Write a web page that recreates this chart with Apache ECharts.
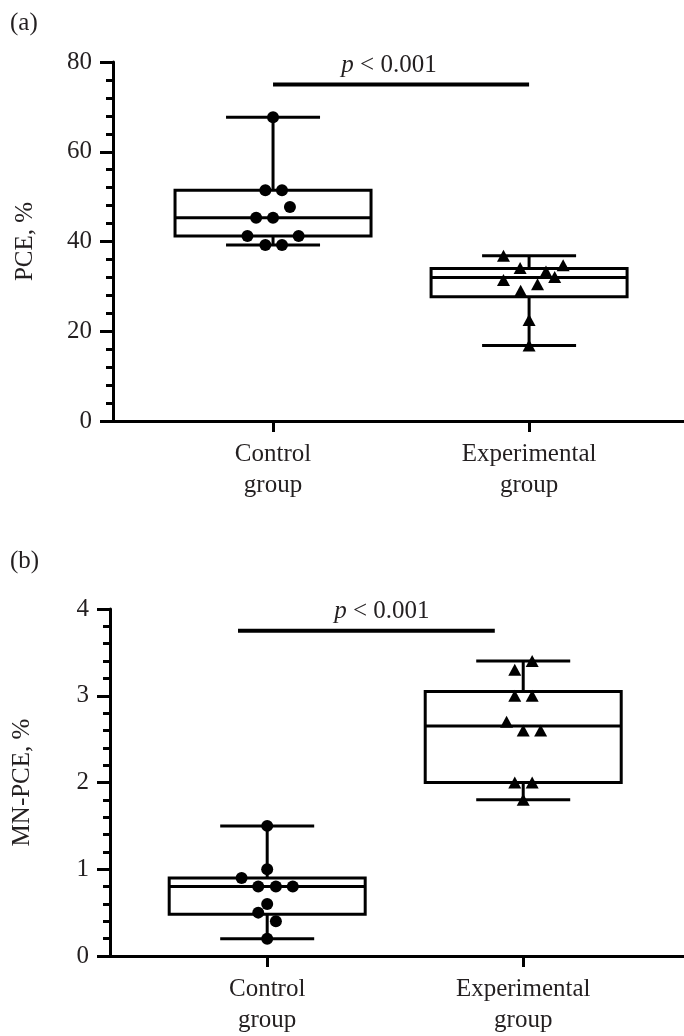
<!doctype html>
<html lang="en">
<head>
    <meta charset="utf-8" />
    <title>PCE / MN-PCE</title>
    <script src="https://cdn.jsdelivr.net/npm/echarts@6/dist/echarts.min.js"></script>
</head>
<style type="text/css">
    html, body { margin: 0; padding: 0; background: #fff; }
    #chart { width: 684px; height: 1036px; }
</style>
<body>
<div id="chart"></div>
<script>
    // group names (x axis)
    var groups = ['Control\ngroup', 'Experimental\ngroup'];

    // panel (a) PCE, %  -- box stats: [min, Q1, median, Q3, max]
    var boxA = [
        [39.2, 41.2, 45.3, 51.4, 67.7],
        [16.8, 27.7, 32.0, 34.0, 36.8]
    ];
    var ctrlA  = [67.7, 51.4, 51.4, 47.7, 45.3, 45.3, 41.2, 41.2, 39.2, 39.2];
    var ctrlAX = [0, -0.03, 0.035, 0.066, -0.066, 0, -0.1, 0.1, -0.03, 0.035];
    var expA   = [36.8, 34.1, 34.7, 33.3, 32.1, 31.4, 30.5, 29.0, 22.5, 16.8];
    var expAX  = [0.9, 0.965, 1.133, 1.066, 1.1, 0.9, 1.033, 0.967, 1, 1];

    // panel (b) MN-PCE, %
    var boxB = [
        [0.2, 0.48, 0.8, 0.9, 1.5],
        [1.8, 2.0, 2.65, 3.05, 3.4]
    ];
    var ctrlB  = [1.5, 1.0, 0.9, 0.8, 0.8, 0.8, 0.6, 0.5, 0.4, 0.2];
    var ctrlBX = [0, 0, -0.1, -0.035, 0.034, 0.1, 0, -0.035, 0.034, 0];
    var expB   = [3.4, 3.3, 3.0, 3.0, 2.7, 2.6, 2.6, 2.0, 2.0, 1.8];
    var expBX  = [1.035, 0.967, 0.967, 1.035, 0.935, 1, 1.068, 0.967, 1.035, 1];

    // significance bars: [y, x from, x to, label x]
    var sigA = [75, 0, 1, 0.453];
    var sigB = [3.75, -0.114, 0.889, 0.448];
    var sigText = ['p', ' < 0.001'];

    var font = 'Liberation Serif';
    var fs = 25;
    var ink = '#000';
    var textInk = '#231f20';

    function boxRender(params, api) {
        var x = api.value(0);
        var lo = api.coord([x, api.value(1)]);
        var q1 = api.coord([x, api.value(2)]);
        var med = api.coord([x, api.value(3)]);
        var q3 = api.coord([x, api.value(4)]);
        var hi = api.coord([x, api.value(5)]);
        var bw = 98, cw = 47;
        var st = { stroke: ink, lineWidth: 3, fill: 'none' };
        return {
            type: 'group',
            children: [
                { type: 'rect', shape: { x: q3[0] - bw, y: q3[1], width: 2 * bw, height: q1[1] - q3[1] }, style: st },
                { type: 'line', shape: { x1: med[0] - bw, y1: med[1], x2: med[0] + bw, y2: med[1] }, style: st },
                { type: 'line', shape: { x1: hi[0], y1: hi[1], x2: q3[0], y2: q3[1] }, style: st },
                { type: 'line', shape: { x1: lo[0], y1: lo[1], x2: q1[0], y2: q1[1] }, style: st },
                { type: 'line', shape: { x1: hi[0] - cw, y1: hi[1], x2: hi[0] + cw, y2: hi[1] }, style: st },
                { type: 'line', shape: { x1: lo[0] - cw, y1: lo[1], x2: lo[0] + cw, y2: lo[1] }, style: st }
            ]
        };
    }

    function xAxisOpt(idx, min, max) {
        return {
            type: 'value', gridIndex: idx, min: min, max: max,
            splitLine: { show: false },
            axisLine: { show: true, onZero: false, lineStyle: { color: ink, width: 3 } },
            axisTick: { show: true, customValues: [0, 1], length: 11, lineStyle: { color: ink, width: 3 } },
            axisLabel: {
                customValues: [0, 1], margin: 18,
                fontFamily: font, fontSize: fs, lineHeight: 31, color: textInk,
                formatter: function (v) { return groups[Math.round(v)]; }
            }
        };
    }

    function yAxisOpt(idx, name, max, interval) {
        return {
            type: 'value', gridIndex: idx, min: 0, max: max, interval: interval,
            name: name, nameLocation: 'middle', nameGap: 75,
            nameTextStyle: { fontFamily: font, fontSize: fs, color: textInk },
            splitLine: { show: false },
            axisLine: { show: true, onZero: false, lineStyle: { color: ink, width: 3 } },
            axisTick: { length: 13, lineStyle: { color: ink, width: 3 } },
            minorTick: { show: true, splitNumber: 5, length: 7, lineStyle: { color: ink, width: 3 } },
            axisLabel: { margin: 21, fontFamily: font, fontSize: fs, color: textInk }
        };
    }

    function pts(xs, ys) {
        return ys.map(function (v, i) { return [xs[i], v]; });
    }

    function panelSeries(idx, box, cY, cX, eY, eX, sig) {
        return [
            {
                type: 'custom', xAxisIndex: idx, yAxisIndex: idx, z: 2,
                renderItem: boxRender,
                encode: { x: 0, y: [1, 2, 3, 4, 5] },
                data: box.map(function (b, i) { return [i].concat(b); }),
                silent: true
            },
            {
                type: 'scatter', xAxisIndex: idx, yAxisIndex: idx, z: 3,
                symbol: 'circle', symbolSize: 12,
                itemStyle: { color: ink, opacity: 1 },
                data: pts(cX, cY)
            },
            {
                type: 'scatter', xAxisIndex: idx, yAxisIndex: idx, z: 3,
                symbol: 'triangle', symbolSize: [13, 12],
                itemStyle: { color: ink, opacity: 1 },
                data: pts(eX, eY)
            },
            {
                type: 'line', xAxisIndex: idx, yAxisIndex: idx, z: 2,
                symbol: 'none',
                lineStyle: { color: ink, width: 4 },
                data: [[sig[1], sig[0]], [sig[2], sig[0]]]
            },
            {
                type: 'scatter', xAxisIndex: idx, yAxisIndex: idx, z: 4,
                symbolSize: 0, itemStyle: { color: ink, opacity: 1 },
                label: {
                    show: true, position: 'top', distance: 7,
                    formatter: function () { return '{i|' + sigText[0] + '}{r|' + sigText[1] + '}'; },
                    rich: {
                        i: { fontFamily: font, fontSize: fs, fontStyle: 'italic', color: textInk },
                        r: { fontFamily: font, fontSize: fs, color: textInk }
                    }
                },
                data: [[sig[3], sig[0]]]
            }
        ];
    }

    var chart = echarts.init(document.getElementById('chart'));
    var option = {
        animation: false,
        title: [
            { text: '(a)', left: 5, top: 6, textStyle: { fontFamily: font, fontSize: fs, fontWeight: 'normal', color: textInk } },
            { text: '(b)', left: 5, top: 544, textStyle: { fontFamily: font, fontSize: fs, fontWeight: 'normal', color: textInk } }
        ],
        grid: [
            { left: 113, right: 0, top: 62, bottom: 615 },
            { left: 110, right: 0, top: 609, bottom: 70 }
        ],
        xAxis: [xAxisOpt(0, -0.625, 1.605), xAxisOpt(1, -0.614, 1.628)],
        yAxis: [yAxisOpt(0, 'PCE, %', 80, 20), yAxisOpt(1, 'MN-PCE, %', 4, 1)],
        series: panelSeries(0, boxA, ctrlA, ctrlAX, expA, expAX, sigA)
            .concat(panelSeries(1, boxB, ctrlB, ctrlBX, expB, expBX, sigB))
    };
    chart.setOption(option);
</script>
</body>
</html>
